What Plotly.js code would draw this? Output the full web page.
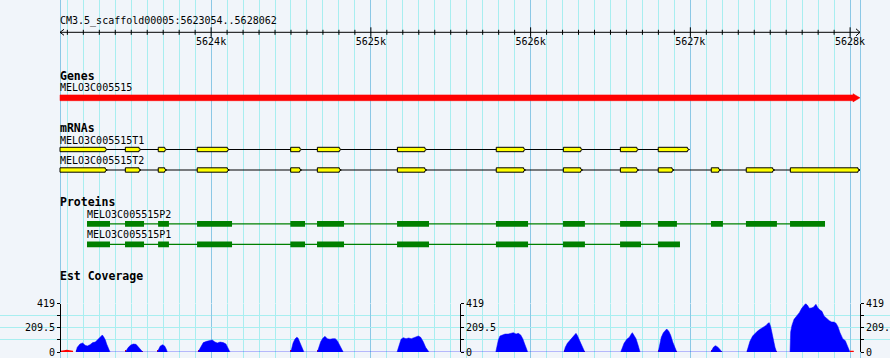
<!DOCTYPE html>
<html><head><meta charset="utf-8">
<script src="https://cdn.plot.ly/plotly-3.0.1.min.js"></script>
<style>html,body{margin:0;padding:0;background:#f1f5fa;}#chart{width:890px;height:358px;}</style>
</head><body><div id="chart"></div>
<script>
// ---- data ----
const chromName = 'CM3.5_scaffold00005';
const regionStart = 5623054;
const regionEnd = 5628062;
const rulerMajor = [5624000, 5625000, 5626000, 5627000, 5628000];
const rulerLabels = ['5624k', '5625k', '5626k', '5627k', '5628k'];

const trackTitles = ['Genes', 'mRNAs', 'Proteins', 'Est Coverage'];

const geneName = 'MELO3C005515';
const geneStart = 5623054;
const geneEnd = 5628062;

const mrnaNames = ['MELO3C005515T1', 'MELO3C005515T2'];
const t1ExonStarts = [5623054, 5623463, 5623669, 5623913, 5624498, 5624665, 5625166, 5625785, 5626205, 5626562, 5626799];
const t1ExonEnds   = [5623350, 5623561, 5623722, 5624114, 5624567, 5624815, 5625350, 5625969, 5626326, 5626677, 5626994];
const t2ExonStarts = [5623054, 5623463, 5623669, 5623913, 5624498, 5624665, 5625166, 5625785, 5626205, 5626562, 5626799, 5627131, 5627350, 5627626];
const t2ExonEnds   = [5623350, 5623561, 5623722, 5624114, 5624567, 5624815, 5625350, 5625969, 5626326, 5626677, 5626898, 5627190, 5627528, 5628062];

const proteinNames = ['MELO3C005515P2', 'MELO3C005515P1'];
const p2Starts = [5623223, 5623461, 5623668, 5623912, 5624496, 5624663, 5625164, 5625783, 5626203, 5626560, 5626797, 5627129, 5627348, 5627624];
const p2Ends   = [5623367, 5623580, 5623736, 5624131, 5624588, 5624832, 5625364, 5625984, 5626340, 5626691, 5626916, 5627204, 5627542, 5627843];
const p1Starts = [5623223, 5623461, 5623668, 5623912, 5624496, 5624663, 5625164, 5625783, 5626203, 5626560, 5626797];
const p1Ends   = [5623367, 5623580, 5623736, 5624131, 5624588, 5624832, 5625364, 5625984, 5626340, 5626691, 5626935];

const coverageMax = 419;
const coverageTicks = [0, 209.5, 419];
const coverageMinorTicks = [104.75, 314.25];
const covPos = [
  5623154,5623162,5623179,5623196,5623211,5623225,5623242,5623259,5623275,5623288,5623300,5623311,5623319,5623329,5623338,5623346,5623356,5623363,5623367,
  5623463,5623472,5623482,5623497,5623513,5623530,5623544,5623559,5623572,
  5623663,5623672,5623682,5623697,5623709,5623718,5623726,
  5623918,5623924,5623937,5623951,5623972,5623993,5624007,5624024,5624039,5624056,5624076,5624093,5624106,5624114,5624118,
  5624498,5624502,5624513,5624525,5624536,5624544,5624550,5624560,5624569,5624577,5624581,
  5624665,5624673,5624686,5624699,5624713,5624727,5624744,5624761,5624777,5624790,5624802,5624815,5624824,5624827,
  5625164,5625174,5625189,5625203,5625220,5625237,5625253,5625270,5625283,5625297,5625312,5625328,5625343,5625356,5625364,
  5625782,5625788,5625798,5625808,5625823,5625840,5625860,5625875,5625892,5625909,5625923,5625938,5625951,5625963,5625976,5625982,
  5626209,5626217,5626230,5626247,5626264,5626276,5626284,5626292,5626305,5626317,5626330,5626339,
  5626564,5626572,5626585,5626602,5626618,5626630,5626637,5626647,5626660,5626672,5626680,5626685,
  5626799,5626806,5626818,5626831,5626843,5626852,5626865,5626877,5626890,5626902,5626915,
  5627129,5627136,5627144,5627156,5627169,5627181,5627190,5627198,
  5627353,5627361,5627373,5627390,5627407,5627419,5627436,5627449,5627461,5627474,5627486,5627494,5627503,5627511,5627519,5627530,5627540,
  5627624,5627628,5627636,5627649,5627666,5627682,5627697,5627711,5627722,5627732,5627745,5627757,5627770,5627786,5627799,5627812,5627824,5627837,5627854,5627870,5627885,5627899,5627912,5627924,5627937,5627954,5627970,5627983,5627991,5627999
];
const covVal = [
  0,40,69,78,58,52,63,81,86,104,115,138,147,127,104,69,32,11,0,
  0,23,40,60,69,66,46,17,0,
  0,23,52,63,52,29,0,
  0,17,52,81,92,101,104,86,78,86,81,69,40,11,0,
  0,17,78,112,127,121,99,69,35,9,0,
  0,40,89,118,135,115,110,115,115,98,69,35,11,0,
  0,40,110,124,115,121,115,124,132,138,127,89,40,11,0,
  0,40,104,138,147,155,155,161,167,155,161,147,115,69,23,0,
  0,40,75,104,127,150,161,144,104,58,17,0,
  0,29,75,110,127,155,167,144,115,63,29,0,
  0,46,127,167,190,199,179,144,86,35,0,
  0,23,40,55,46,29,17,0,
  0,40,92,138,167,179,196,207,219,230,248,253,219,155,95,40,0,
  0,176,230,282,311,340,377,397,419,406,378,380,386,412,380,363,351,311,288,271,259,259,248,219,167,115,98,52,23,0
];
// low-coverage (below pivot) stretches drawn in red
const lowAreaPos = [5623056, 5623058, 5623080, 5623096, 5623115, 5623135, 5623137, 5627999, 5628000, 5628022, 5628024];
const lowAreaVal = [0, 11, 15, 20, 15, 11, 0, 0, 11, 11, 0];
const lowEdgePos = [5623157, 5623465, 5623568, 5623666, 5623921, 5624501, 5624668, 5625785, 5626212, 5626335, 5626802, 5626911, 5627132, 5627194, 5627356, 5627536];
const lowEdgeVal = [14, 14, 12, 14, 14, 14, 14, 12, 14, 12, 14, 12, 14, 12, 14, 12];

// ---- geometry helpers (pixel rows of the tracks) ----
const W = 890, H = 358;
const padL = 60, padR = 30;
const bpPerPx = (regionEnd - regionStart) / (W - padL - padR);
const xMin = regionStart - padL * bpPerPx;
const xMax = regionEnd + padR * bpPerPx;
const mono = 'DejaVu Sans Mono, monospace';

function arrowBoxes(starts, ends, yc, h, tip, notch) {
  const xs = [], ys = [];
  for (let i = 0; i < starts.length; i++) {
    const s = starts[i], e = ends[i];
    const t = yc - h / 2, b = yc + h / 2;
    xs.push(s, e - tip, e - tip, e, e - tip, e - tip, s, s, null);
    ys.push(t, t, t + notch, yc, b - notch, b, b, t, null);
  }
  return {xs, ys};
}
function rects(starts, ends, yc, h) {
  const xs = [], ys = [];
  for (let i = 0; i < starts.length; i++) {
    xs.push(starts[i], ends[i], ends[i], starts[i], starts[i], null);
    ys.push(yc - h / 2, yc - h / 2, yc + h / 2, yc + h / 2, yc - h / 2, null);
  }
  return {xs, ys};
}

const traces = [];
// ruler
const rulerY = 32.3;
traces.push({x: [regionStart, regionEnd], y: [rulerY, rulerY], mode: 'lines', line: {color: '#000', width: 1}, hoverinfo: 'skip'});
const minorX = [], minorY = [], majX = [], majY = [];
for (let p = Math.ceil(regionStart / 100) * 100; p <= regionEnd; p += 100) {
  if (p % 1000 === 0) { majX.push(p, p, null); majY.push(rulerY - 5, rulerY + 4.5, null); }
  else { minorX.push(p, p, null); minorY.push(rulerY - 2.5, rulerY + 2.5, null); }
}
traces.push({x: minorX, y: minorY, mode: 'lines', line: {color: '#000', width: 1}, hoverinfo: 'skip'});
traces.push({x: majX, y: majY, mode: 'lines', line: {color: '#000', width: 1}, hoverinfo: 'skip'});
const aw = 4 * bpPerPx;
traces.push({x: [regionStart + aw, regionStart, regionStart + aw, null, regionEnd - aw, regionEnd, regionEnd - aw],
             y: [rulerY - 3, rulerY, rulerY + 3, null, rulerY - 3.5, rulerY, rulerY + 3.5],
             mode: 'lines', line: {color: '#000', width: 1}, hoverinfo: 'skip'});
traces.push({x: rulerMajor, y: rulerMajor.map(() => 42.5), text: rulerLabels, mode: 'text', textposition: 'middle center',
             textfont: {family: mono, size: 10, color: '#000'}, hoverinfo: 'skip'});

// gene
const g = arrowBoxes([geneStart], [geneEnd], 97.8, 5.8, 7 * bpPerPx, -1.2);
traces.push({x: g.xs, y: g.ys, mode: 'lines', fill: 'toself', fillcolor: '#ff0000', line: {color: '#ff0000', width: 0.5}, hoverinfo: 'skip'});

// mRNAs
const mrnaY = [149.5, 170];
const mrnaSets = [[t1ExonStarts, t1ExonEnds], [t2ExonStarts, t2ExonEnds]];
mrnaSets.forEach((set, k) => {
  const st = set[0], en = set[1];
  traces.push({x: [st[0], en[en.length - 1]], y: [mrnaY[k], mrnaY[k]], mode: 'lines', line: {color: '#000', width: 1.2}, hoverinfo: 'skip'});
  const b = arrowBoxes(st, en, mrnaY[k], 4.4, 2 * bpPerPx, 1.2);
  traces.push({x: b.xs, y: b.ys, mode: 'lines', fill: 'toself', fillcolor: '#ffff00', line: {color: '#000', width: 1}, hoverinfo: 'skip'});
});

// proteins
const protY = [223.8, 244.4];
const protSets = [[p2Starts, p2Ends], [p1Starts, p1Ends]];
protSets.forEach((set, k) => {
  const st = set[0], en = set[1];
  traces.push({x: [st[0], en[en.length - 1]], y: [protY[k], protY[k]], mode: 'lines', line: {color: '#008000', width: 1.2}, hoverinfo: 'skip'});
  const r = rects(st, en, protY[k], 5.8);
  traces.push({x: r.xs, y: r.ys, mode: 'lines', fill: 'toself', fillcolor: '#008000', line: {color: '#008000', width: 0}, hoverinfo: 'skip'});
});

// coverage
traces.push({x: covPos, y: covVal, yaxis: 'y2', mode: 'lines', fill: 'tozeroy', fillcolor: '#0000ff', line: {color: '#0000ff', width: 0.5}, hoverinfo: 'skip'});
traces.push({x: lowAreaPos, y: lowAreaVal, yaxis: 'y2', mode: 'lines', fill: 'tozeroy', fillcolor: '#ff0000', line: {color: '#ff0000', width: 0}, hoverinfo: 'skip'});
traces.push({x: lowEdgePos, y: lowEdgeVal, yaxis: 'y2', type: 'bar', width: 9, marker: {color: '#ff0000', line: {width: 0}}, hoverinfo: 'skip'});
traces.push({x: [regionStart], y: [0], yaxis: 'y3', mode: 'markers', marker: {opacity: 0}, hoverinfo: 'skip'});
traces.push({x: [regionStart], y: [0], yaxis: 'y4', mode: 'markers', marker: {opacity: 0}, hoverinfo: 'skip'});

// ---- text ----
const ann = [];
function label(txt, x, y, bold) {
  ann.push({text: bold ? '<b>' + txt + '</b>' : txt, x: x, y: y, xref: 'x', yref: 'y', xanchor: 'left', yanchor: 'middle',
            showarrow: false, xshift: -1, borderpad: 0,
            font: {family: mono, size: bold ? 11.5 : 10, color: '#000'}});
}
label(chromName + ':' + regionStart + '..' + regionEnd, regionStart, 21, false);
label(trackTitles[0], regionStart, 76, true);
label(geneName, geneStart, 87.5, false);
label(trackTitles[1], regionStart, 128.3, true);
label(mrnaNames[0], t1ExonStarts[0], 140.3, false);
label(mrnaNames[1], t2ExonStarts[0], 160.3, false);
label(trackTitles[2], regionStart, 202, true);
label(proteinNames[0], p2Starts[0], 214.3, false);
label(proteinNames[1], p1Starts[0], 234.3, false);
label(trackTitles[3], regionStart, 276, true);

// ---- layout ----
const hundreds = [];
for (let p = Math.ceil(regionStart / 100) * 100; p <= regionEnd; p += 100) if (p % 1000 !== 0) hundreds.push(p);
const covTop = 303.5, covBot = 352;
const dom = [1 - covBot / H, 1 - covTop / H];
const covAxis = (pos, side, grid) => ({
  domain: dom, range: [0, coverageMax], anchor: 'free', position: pos, side: side,
  tickmode: 'array', tickvals: coverageTicks, ticktext: coverageTicks.map(String),
  ticks: side === 'left' ? 'outside' : 'outside', ticklen: 3, tickcolor: '#000', tickwidth: 1,
  showline: true, linecolor: '#000', linewidth: 1, zeroline: false,
  showgrid: grid, gridcolor: '#a8eef0', gridwidth: 1,
  minor: {tickmode: 'array', tickvals: coverageMinorTicks, ticks: 'outside', ticklen: 3, tickcolor: '#000', showgrid: grid, gridcolor: '#a8eef0'},
  tickfont: {family: mono, size: 10, color: '#000'}, ticklabelstandoff: 0
});

const layout = {
  width: W, height: H, margin: {l: 0, r: 0, t: 0, b: 0},
  paper_bgcolor: '#f1f5fa', plot_bgcolor: '#f1f5fa', showlegend: false,
  xaxis: {range: [xMin, xMax], showticklabels: false, ticks: '', zeroline: false,
          tickmode: 'array', tickvals: [regionStart].concat(rulerMajor, [regionEnd]),
          showgrid: true, gridcolor: '#8cc8e6', gridwidth: 1,
          minor: {tickmode: 'array', tickvals: hundreds, showgrid: true, gridcolor: '#a8eef0', gridwidth: 1, ticks: ''}},
  yaxis: {range: [H, 0], domain: [0, 1], visible: false, showgrid: false, zeroline: false},
  yaxis2: covAxis(padL / W, 'left', true),
  yaxis3: Object.assign(covAxis((padL + (W - padL - padR) / 2) / W, 'right', false), {overlaying: 'y2'}),
  yaxis4: Object.assign(covAxis((W - padR) / W, 'right', false), {overlaying: 'y2'}),
  annotations: ann,
  bargap: 0
};
Plotly.newPlot('chart', traces, layout, {displayModeBar: false, staticPlot: true});
</script>
</body></html>
